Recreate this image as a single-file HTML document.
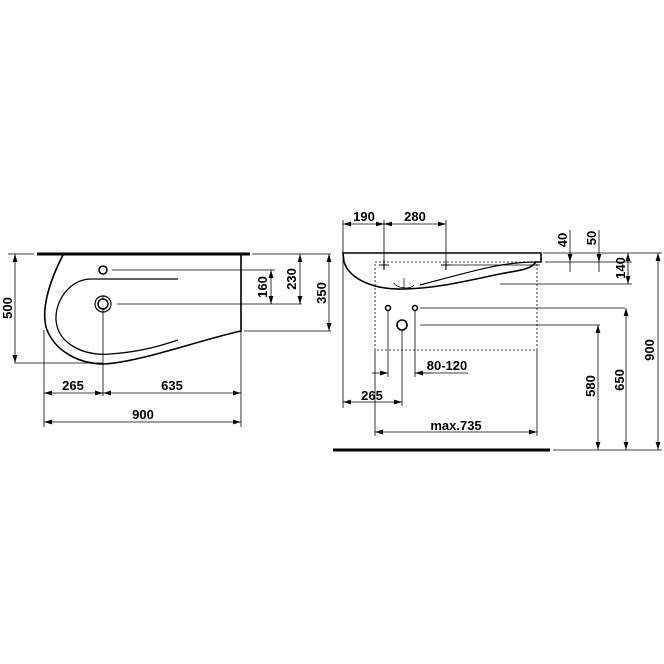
<!DOCTYPE html>
<html><head><meta charset="utf-8"><style>html,body{margin:0;padding:0;background:#fff}svg{display:block}</style></head><body>
<svg width="664" height="664" viewBox="0 0 664 664" xmlns="http://www.w3.org/2000/svg" font-family="Liberation Sans, sans-serif" font-weight="bold" font-size="13">
<defs>
<marker id="a" viewBox="0 0 10 6" refX="10" refY="3" markerWidth="8" markerHeight="5" orient="auto-start-reverse" markerUnits="userSpaceOnUse"><path d="M0,0L10,3L0,6z" fill="#000"/></marker>
</defs>
<rect width="664" height="664" fill="#fff"/>
<!-- LEFT VIEW -->
<g fill="none" stroke="#000">
<line x1="37" y1="254" x2="250" y2="254" stroke-width="3"/>
<path d="M63,255 C50,280 40,310 47,330 C56,352 80,364 104,364 C140,362 200,340 241,331 L241,255" stroke-width="1.6"/>
<path d="M178,279 L90,279 C70,280 55,300 56,320 C58,345 85,356 110,354 C140,352 160,346 178,340" stroke-width="1.3"/>
<circle cx="103" cy="270" r="4" stroke-width="1.5"/>
<circle cx="103" cy="304" r="8" stroke-width="1.2"/>
<circle cx="103" cy="304" r="5" stroke-width="1.5"/>
</g>
<g stroke="#000" stroke-width="0.8" fill="none">
<line x1="112" y1="270" x2="275" y2="270"/>
<line x1="117" y1="304" x2="302" y2="304"/>
<line x1="244" y1="331" x2="331" y2="331"/>
<line x1="252" y1="254" x2="331" y2="254"/>
<line x1="8" y1="254" x2="34" y2="254"/>
<line x1="15" y1="363" x2="103" y2="363"/>
<line x1="44" y1="330" x2="44" y2="427"/>
<line x1="103" y1="308" x2="103" y2="396"/>
<line x1="241" y1="331" x2="241" y2="427"/>
<line x1="103" y1="296" x2="103" y2="300"/>
<line x1="271" y1="270" x2="271" y2="304" marker-start="url(#a)" marker-end="url(#a)"/>
<line x1="300" y1="254" x2="300" y2="304" marker-start="url(#a)" marker-end="url(#a)"/>
<line x1="329" y1="254" x2="329" y2="331" marker-start="url(#a)" marker-end="url(#a)"/>
<line x1="15" y1="254" x2="15" y2="363" marker-start="url(#a)" marker-end="url(#a)"/>
<line x1="44" y1="393" x2="103" y2="393" marker-start="url(#a)" marker-end="url(#a)"/>
<line x1="103" y1="393" x2="241" y2="393" marker-start="url(#a)" marker-end="url(#a)"/>
<line x1="44" y1="422" x2="241" y2="422" marker-start="url(#a)" marker-end="url(#a)"/>
</g>
<g fill="#000">
<text x="73" y="390" text-anchor="middle">265</text>
<text x="172" y="390" text-anchor="middle">635</text>
<text x="143" y="419" text-anchor="middle">900</text>
<text transform="translate(267,287) rotate(-90)" text-anchor="middle">160</text>
<text transform="translate(296,279) rotate(-90)" text-anchor="middle">230</text>
<text transform="translate(326,293) rotate(-90)" text-anchor="middle">350</text>
<text transform="translate(12,308) rotate(-90)" text-anchor="middle">500</text>
</g>
<!-- RIGHT VIEW -->
<g fill="none" stroke="#000">
<path d="M343,253 L541,253 L541,262 L536,262 C530,270 520,270 500,274 C470,280 440,288 405,289 C375,290 350,280 344,262 Z" stroke-width="1.6"/>
<path d="M536,262 C500,262 470,272 420,285" stroke-width="1.2"/>
<path d="M394,283 C396,288 410,290 414,285 M404,278 L404,289" stroke-width="0.7"/>
<circle cx="388" cy="308" r="2.5" stroke-width="1.5"/>
<circle cx="415" cy="308" r="2.5" stroke-width="1.5"/>
<circle cx="402" cy="325" r="5" stroke-width="1.6"/>
<line x1="333" y1="450" x2="550" y2="450" stroke-width="3"/>
</g>
<g stroke="#000" stroke-width="1.1">
<path d="M379,265h10M384,260v10M441,265h10M446,260v10"/>
</g>
<g stroke="#000" stroke-width="0.8" fill="none">
<rect x="375" y="262" width="162" height="88" stroke-dasharray="2,2"/>
<line x1="343" y1="220" x2="343" y2="408"/>
<line x1="384" y1="220" x2="384" y2="262"/>
<line x1="446" y1="220" x2="446" y2="262"/>
<line x1="343" y1="224" x2="384" y2="224" marker-start="url(#a)" marker-end="url(#a)"/>
<line x1="384" y1="224" x2="446" y2="224" marker-start="url(#a)" marker-end="url(#a)"/>
<line x1="451" y1="265" x2="540" y2="265"/>
<line x1="543" y1="253" x2="662" y2="253"/>
<line x1="545" y1="262" x2="632" y2="262"/>
<line x1="500" y1="284" x2="632" y2="284"/>
<line x1="570" y1="230" x2="570" y2="262" marker-end="url(#a)"/>
<line x1="570" y1="262" x2="570" y2="272"/>
<line x1="599" y1="230" x2="599" y2="262" marker-end="url(#a)"/>
<line x1="599" y1="262" x2="599" y2="272"/>
<line x1="628" y1="253" x2="628" y2="284" marker-start="url(#a)" marker-end="url(#a)"/>
<line x1="420" y1="308" x2="625" y2="308"/>
<line x1="420" y1="325" x2="600" y2="325"/>
<line x1="598" y1="325" x2="598" y2="450" marker-start="url(#a)" marker-end="url(#a)"/>
<line x1="626" y1="308" x2="626" y2="450" marker-start="url(#a)" marker-end="url(#a)"/>
<line x1="658" y1="253" x2="658" y2="450" marker-start="url(#a)" marker-end="url(#a)"/>
<line x1="553" y1="450" x2="662" y2="450"/>
<line x1="388" y1="311" x2="388" y2="377"/>
<line x1="415" y1="311" x2="415" y2="377"/>
<line x1="402" y1="330" x2="402" y2="406"/>
<line x1="372" y1="373" x2="388" y2="373" marker-end="url(#a)"/>
<line x1="431" y1="373" x2="415" y2="373" marker-end="url(#a)"/>
<line x1="415" y1="373" x2="468" y2="373"/>
<line x1="343" y1="402" x2="402" y2="402" marker-start="url(#a)" marker-end="url(#a)"/>
<line x1="375" y1="350" x2="375" y2="436"/>
<line x1="537" y1="350" x2="537" y2="436"/>
<line x1="375" y1="432" x2="537" y2="432" marker-start="url(#a)" marker-end="url(#a)"/>
</g>
<g fill="#000">
<text x="364" y="221" text-anchor="middle">190</text>
<text x="415" y="221" text-anchor="middle">280</text>
<text x="447" y="370" text-anchor="middle">80-120</text>
<text x="372" y="400" text-anchor="middle">265</text>
<text x="456" y="430" text-anchor="middle">max.735</text>
<text transform="translate(567,240) rotate(-90)" text-anchor="middle">40</text>
<text transform="translate(596,238) rotate(-90)" text-anchor="middle">50</text>
<text transform="translate(625,268) rotate(-90)" text-anchor="middle">140</text>
<text transform="translate(595,386) rotate(-90)" text-anchor="middle">580</text>
<text transform="translate(624,380) rotate(-90)" text-anchor="middle">650</text>
<text transform="translate(654,350) rotate(-90)" text-anchor="middle">900</text>
</g>
</svg>
</body></html>
